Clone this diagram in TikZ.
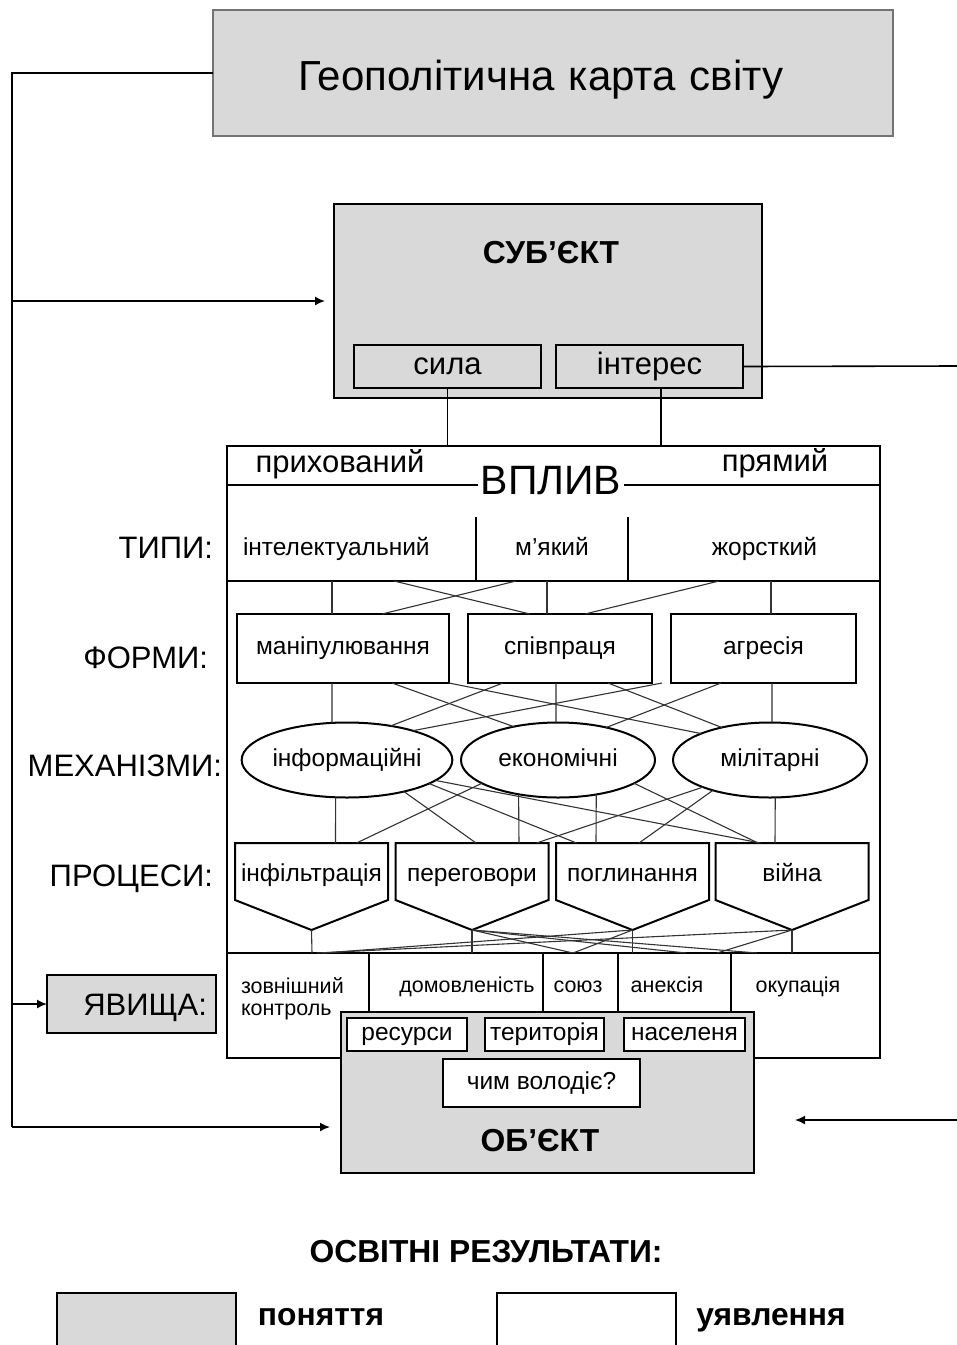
\documentclass[tikz,border=0pt]{standalone}
\usepackage{fontspec}
\setmainfont{Liberation Sans}
\usetikzlibrary{arrows.meta, positioning, shapes.geometric}
\definecolor{boxgray}{RGB}{217,217,217}

\begin{document}
\begin{tikzpicture}[
x = 1pt, y = -1pt,
every node/.style = {inner sep=0pt, outer sep=0pt, text height=17.6pt, text depth=5.4pt,
                     font=\fontsize{24.5}{28}\selectfont},
    box/.style = {draw, line width=2pt, minimum height=69pt},
concept/.style = {box, fill=boxgray},
   mech/.style = {ellipse, draw, line width=2pt, minimum width=194pt, minimum height=75pt},
   proc/.style = {minimum width=153pt, minimum height=57pt, text height=21pt, text depth=1pt},
   cell/.style = {minimum height=64pt},
   caps/.style = {text depth=0pt},
    lbl/.style = {font=\fontsize{31}{36}\selectfont, text height=22.3pt, text depth=6.8pt},
     hd/.style = {font=\fontsize{31.8}{36}\selectfont\bfseries, text height=22.9pt, caps},
  small/.style = {font=\fontsize{21.5}{22}\selectfont, text height=15.5pt, text depth=4.7pt},
   link/.style = {line width=1.1pt, black!80},
   rule/.style = {line width=1.5pt},
    arr/.style = {line width=1.6pt, -{Latex[length=10pt, width=9pt]}},
                    ]
\clip (0,0) rectangle (957,1345);
\fill[white] (0,0) rectangle (957,1345);
%
\node[concept, draw=black!55, line width=1.2pt, minimum width=680pt, minimum height=126pt,
      text width=510pt, align=left, inner xsep=85pt, font=\fontsize{42}{48}\selectfont,
      text height=37.8pt, text depth=2pt]
      (geo) at (553,73) {Геополітична карта світу};
%
\node[concept, minimum width=428pt, minimum height=194pt] (subj) at (548,301) {};
\node[hd] (subj lbl) at (551,252) {СУБ’ЄКТ};
\node[concept, minimum width=187pt, minimum height=43pt, lbl] (sila) at (447.5,366.5) {сила};
\node[concept, minimum width=187pt, minimum height=43pt, lbl] (intr) at (649.5,366.5) {інтерес};
%
\node[draw, line width=2pt, minimum width=653pt, minimum height=612pt] (frame) at (553.5,752) {};
\draw[rule] (sila.south) -- (sila.south |- frame.north);
\draw[rule] (intr.south) ++(11.5,0) -- ++(0,58);
%
\coordinate (hdr) at (551,485);
\draw[rule] (frame.west |- hdr) -- (frame.east |- hdr);
\node[fill=white, inner xsep=3pt, inner ysep=2pt, font=\fontsize{41}{46}\selectfont,
      text height=29.5pt, caps] (vpl) at (551,480) {ВПЛИВ};
\node[lbl] (hid) at (340,465) {прихований};
\node[lbl] (dir) at (775,464) {прямий};
%
\node[cell, minimum width=249pt, text width=217pt, align=left, inner xsep=16pt] (t1) at (351.5,549) {інтелектуальний};
\node[cell, minimum width=152pt] (t2) at (552,549) {м’який};
\node[cell, minimum width=252pt, text width=126pt, align=right, inner xsep=63pt] (t3) at (754,549) {жорсткий};
\draw[rule] (frame.west |- t1.south) -- (frame.east |- t1.south);
\draw[rule] (t1.north east) -- (t1.south east)
            (t2.north east) -- (t2.south east);
%
\node[lbl, caps, anchor=east] (l typ)  at (213,547) {ТИПИ:};
\node[lbl, caps, anchor=east] (l form) at (208,657) {ФОРМИ:};
\node[lbl, caps, anchor=east] (l mech) at (222,765) {МЕХАНІЗМИ:};
\node[lbl, caps, anchor=east] (l proc) at (213,875) {ПРОЦЕСИ:};
%
\node[box, minimum width=212pt] (manip) at (343,648.5)   {маніпулювання};
\node[box, minimum width=184pt] (spiv)  at (560,648.5)   {співпраця};
\node[box, minimum width=185pt] (agr)   at (763.5,648.5) {агресія};
%
\node[mech] (info) at (347,760) {інформаційні};
\node[mech] (econ) at (558,760) {економічні};
\node[mech] (mil)  at (770,760) {мілітарні};
%
\node[proc] (inf) at (311.5,871.5) {інфільтрація};
\node[proc] (per) at (472,871.5)   {переговори};
\node[proc] (pog) at (632.5,871.5) {поглинання};
\node[proc] (vij) at (792,871.5)   {війна};
\coordinate (tip inf) at ([yshift=-30pt]inf.south);
\coordinate (tip per) at ([yshift=-30pt]per.south);
\coordinate (tip pog) at ([yshift=-30pt]pog.south);
\coordinate (tip vij) at ([yshift=-30pt]vij.south);
\foreach \p in {inf,per,pog,vij}
    \draw[line width=2pt] (\p.north west) -- (\p.north east) -- (\p.south east)
                          -- (tip \p) -- (\p.south west) -- cycle;
%
\coordinate (zovn)  at (298,953);
\coordinate (dom)   at (456,953);
\coordinate (soyuz) at (580.5,953);
\coordinate (anek)  at (674.5,953);
\coordinate (okup)  at (805.5,953);
\draw[rule] (frame.west |- zovn) -- (frame.east |- zovn);
\foreach \x in {369,543,618,731}
    \draw[rule] (\x,953) -- (\x,1058);
\node[small, align=left, anchor=north west, text height=, text depth=] (zovn txt) at (241,978) {зовнішний\\контроль};
\node[small] (dom txt)   at (467,987) {домовленість};
\node[small] (soyuz txt) at (578,987) {союз};
\node[small] (anek txt)  at (667,987) {анексія};
\node[small] (okup txt)  at (798,987) {окупація};
%
\path[link] ([xshift=-19.5pt]t1.south) edge ([xshift=-11pt]manip.north)
            ([xshift=42.5pt]t1.south)  edge ([xshift=-30pt]spiv.north)
            ([xshift=-36pt]t2.south)   edge ([xshift=39pt]manip.north)
            ([xshift=-5pt]t2.south)    edge ([xshift=-13pt]spiv.north)
            ([xshift=-35pt]t3.south)   edge ([xshift=25pt]spiv.north)
            ([xshift=17pt]t3.south)    edge ([xshift=7.5pt]agr.north);
%
\path[link] ([xshift=-11pt]manip.south)  edge (info.112)
            ([xshift=49pt]manip.south)   edge (econ.143)
            (manip.south east)           edge (mil.159)
            ([xshift=-57pt]spiv.south)   edge (info.38)
            ([xshift=-4pt]spiv.south)    edge (econ.93)
            ([xshift=48pt]spiv.south)    edge (mil.146)
            ([xshift=-101.5pt]agr.south) edge (info.24)
            ([xshift=-42.5pt]agr.south)  edge (econ.34)
            ([xshift=8.5pt]agr.south)    edge (mil.87);
%
\path[link] (info.253) edge ([xshift=24pt]inf.north)
            (info.331) edge ([xshift=4pt]per.north)
            (info.344) edge ([xshift=-56pt]pog.north)
            (info.347) edge ([xshift=-31.5pt]vij.north)
            (econ.197) edge ([xshift=45pt]inf.north)
            (econ.221) edge ([xshift=47pt]per.north)
            (econ.318) edge ([xshift=-36.5pt]pog.north)
            (econ.343) edge ([xshift=-34pt]vij.north)
            (mil.202)  edge ([xshift=64.5pt]per.north)
            (mil.208)  edge ([xshift=6.5pt]pog.north)
            (mil.278)  edge ([xshift=-17pt]vij.north);
%
\path[link] (tip inf) edge ([xshift=14pt]zovn)
            (tip per) edge ([xshift=16pt]dom)
            (tip per) edge ([xshift=-7.5pt]soyuz)
            (tip per) edge ([xshift=11.5pt]anek)
            (tip per) edge ([xshift=-48.5pt]okup)
            (tip pog) edge ([xshift=25pt]zovn)
            (tip pog) edge ([xshift=-7.5pt]soyuz)
            (tip pog) edge ([xshift=-42pt]anek)
            (tip vij) edge ([xshift=19pt]zovn)
            (tip vij) edge ([xshift=42.5pt]anek)
            (tip vij) edge ([xshift=-13.5pt]okup);
%
\node[concept, minimum width=413pt, minimum height=161pt] (obj) at (547.5,1092.5) {};
\node[box, fill=white, line width=1.5pt, minimum width=120pt, minimum height=33pt] (res) at (407,1034.5)   {ресурси};
\node[box, fill=white, line width=1.5pt, minimum width=119pt, minimum height=33pt] (ter) at (544.5,1034.5) {територія};
\node[box, fill=white, line width=1.5pt, minimum width=121pt, minimum height=33pt] (nas) at (684.5,1034.5) {населеня};
\node[box, fill=white, line width=1.5pt, minimum width=197pt, minimum height=48pt] (own) at (541.5,1083)   {чим володіє?};
\node[hd] (obj lbl) at (540,1140) {ОБ’ЄКТ};
%
\node[concept, line width=1.5pt, minimum width=169pt, minimum height=58pt,
      text width=151pt, align=right, inner xsep=9pt, lbl, caps] (yav) at (131.5,1004) {ЯВИЩА:};
%
\coordinate (lft)  at (12,1127);
\coordinate (rgt)  at (957,366);
\coordinate (rgt2) at (957,1120);
\draw[line width=1.6pt] (geo.west) -| (lft);
\draw[arr, shorten >=11pt] (lft) -- (obj.west |- lft);
\draw[arr, shorten >=9pt] (subj.west -| lft) -- (subj.west);
\draw[arr] (yav.west -| lft) -- (yav.west);
\draw[line width=1.6pt] (intr.east) -- (rgt);
\draw[arr, shorten >=41pt] (rgt2) -- (obj.east |- rgt2);
%
\node[hd] (edu) at (486,1251) {ОСВІТНІ РЕЗУЛЬТАТИ:};
\node[concept, line width=1.5pt, minimum width=179pt, minimum height=80pt, anchor=north] (leg c) at (146.5,1293) {};
\node[box, line width=1.5pt, minimum width=179pt, minimum height=80pt, anchor=north] (leg i) at (586.5,1293) {};
\node[hd, text depth=7pt] (leg c txt) at (321,1318) {поняття};
\node[hd, text depth=7pt] (leg i txt) at (771,1318) {уявлення};
\end{tikzpicture}
\end{document}
